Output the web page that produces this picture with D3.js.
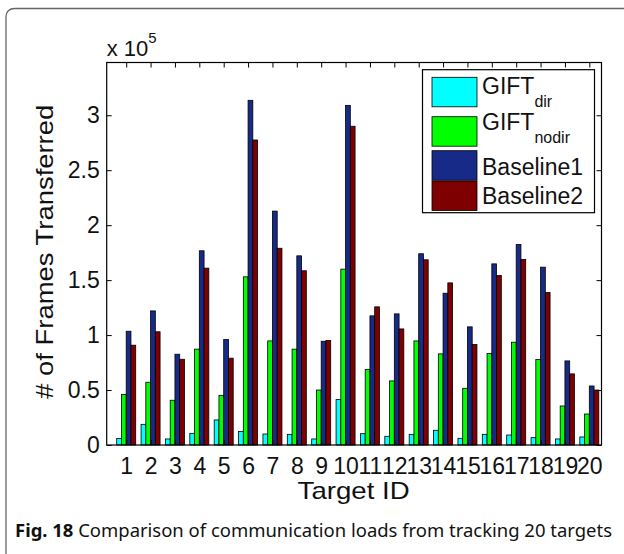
<!DOCTYPE html>
<html>
<head>
<meta charset="utf-8">
<script src="https://cdn.jsdelivr.net/npm/d3@7"></script>
<style>
  body { margin: 0; background: #fff; }
  svg text { font-family: "Liberation Sans", Arial, sans-serif; fill: #111; }
</style>
</head>
<body>
<div id="chart"></div>
<script>
// data (values in units of 10^5 frames)
var targets = d3.range(1, 21);
var giftDir = [0.06, 0.188, 0.055, 0.106, 0.228, 0.124, 0.10, 0.097, 0.055, 0.413,
               0.103, 0.079, 0.097, 0.134, 0.061, 0.097, 0.091, 0.067, 0.055, 0.073];
var giftNodir = [0.46, 0.571, 0.407, 0.872, 0.452, 1.53, 0.947, 0.872, 0.50, 1.60,
                 0.686, 0.583, 0.947, 0.829, 0.516, 0.832, 0.935, 0.777, 0.355, 0.282];
var baseline1 = [1.035, 1.22, 0.826, 1.767, 0.959, 3.136, 2.128, 1.721, 0.944, 3.09,
                 1.175, 1.193, 1.74, 1.381, 1.075, 1.648, 1.824, 1.618, 0.765, 0.537];
var baseline2 = [0.908, 1.03, 0.78, 1.609, 0.79, 2.775, 1.79, 1.585, 0.95, 2.90,
                 1.257, 1.056, 1.685, 1.475, 0.914, 1.542, 1.688, 1.388, 0.647, 0.50];
var yTicks = [0, 0.5, 1, 1.5, 2, 2.5, 3];
var seriesNames = [["GIFT", "dir"], ["GIFT", "nodir"], ["Baseline1", ""], ["Baseline2", ""]];
var colors = ["#00ffff", "#00ff00", "#172a88", "#7f0000"];
var allSeries = [giftDir, giftNodir, baseline1, baseline2];

var W = 624, H = 554;
var plotL = 106.7, plotR = 601.5, plotT = 62.5, plotB = 445;

var svg = d3.select("#chart").append("svg")
    .attr("width", W)
    .attr("height", H);

// card frame (only top/left edges show)
svg.append("path")
    .attr("d", "M6,570 V17 Q6,8.5 15,8.5 H640")
    .attr("fill", "none")
    .attr("stroke", "#666")
    .attr("stroke-width", 1.3);

var x = d3.scaleLinear().domain([0.2, 20.5]).range([plotL, plotR]);
var y = d3.scaleLinear().domain([0, 3.48]).range([plotB, plotT]);
var bw = 0.195; // bar width in x units

// bars
var rows = [];
allSeries.forEach(function (s, si) {
    s.forEach(function (v, i) {
        rows.push({ t: targets[i], v: v, s: si });
    });
});
svg.append("g")
    .selectAll("rect")
    .data(rows)
    .enter()
    .append("rect")
    .attr("x", function (d) { return x(d.t + (d.s - 2) * bw); })
    .attr("width", function (d) { return x(d.t + (d.s - 1) * bw) - x(d.t + (d.s - 2) * bw); })
    .attr("y", function (d) { return y(d.v); })
    .attr("height", function (d) { return y(0) - y(d.v); })
    .attr("fill", function (d) { return colors[d.s]; })
    .attr("stroke", "#000")
    .attr("stroke-width", 0.8);

// axes, ticks inward like matlab
var tk = 5;
var axB = svg.append("g").attr("transform", "translate(0," + plotB + ")")
    .call(d3.axisBottom(x).tickValues(targets).tickSize(-tk).tickPadding(13).tickFormat(d3.format("d")));
var axT = svg.append("g").attr("transform", "translate(0," + plotT + ")")
    .call(d3.axisTop(x).tickValues(targets).tickSize(-tk).tickFormat(""));
var axL = svg.append("g").attr("transform", "translate(" + plotL + ",0)")
    .call(d3.axisLeft(y).tickValues(yTicks).tickSize(-tk).tickPadding(7).tickFormat(function (d) { return d; }));
var axR = svg.append("g").attr("transform", "translate(" + plotR + ",0)")
    .call(d3.axisRight(y).tickValues(yTicks).tickSize(-tk).tickFormat(""));
[axB, axT, axL, axR].forEach(function (a) {
    a.select(".domain").remove();
    a.selectAll("line").attr("stroke", "#000").attr("stroke-width", 1);
    a.selectAll("text").style("font-size", "23px").attr("fill", "#111");
});
svg.append("rect")
    .attr("x", plotL).attr("y", plotT)
    .attr("width", plotR - plotL).attr("height", plotB - plotT)
    .attr("fill", "none").attr("stroke", "#000").attr("stroke-width", 1.2);

// exponent
var ex = svg.append("text").attr("x", plotL).attr("y", 56).style("font-size", "22px");
ex.append("tspan").text("x 10");
ex.append("tspan").attr("dy", -13).style("font-size", "15px").text("5");

// axis labels
svg.append("text")
    .attr("x", (plotL + plotR) / 2 - 0.5)
    .attr("y", 499)
    .attr("text-anchor", "middle")
    .attr("textLength", 112)
    .attr("lengthAdjust", "spacingAndGlyphs")
    .style("font-size", "24px")
    .text("Target ID");
svg.append("text")
    .attr("transform", "translate(53," + ((plotT + plotB) / 2 - 2) + ") rotate(-90)")
    .attr("text-anchor", "middle")
    .attr("textLength", 294)
    .attr("lengthAdjust", "spacingAndGlyphs")
    .style("font-size", "24px")
    .text("# of Frames Transferred");

// legend
var lg = svg.append("g");
lg.append("rect")
    .attr("x", 422.5).attr("y", 69.7)
    .attr("width", 172).attr("height", 143)
    .attr("fill", "#fff").attr("stroke", "#000").attr("stroke-width", 1.2);
var swY = [77.3, 116.7, 150.7, 181];
var txY = [94, 130, 175, 204];
seriesNames.forEach(function (n, i) {
    lg.append("rect")
        .attr("x", 432).attr("y", swY[i])
        .attr("width", 45).attr("height", 29.5)
        .attr("fill", colors[i]).attr("stroke", "#000").attr("stroke-width", 0.8);
    var t = lg.append("text").attr("x", 482).attr("y", txY[i]).style("font-size", "23px");
    t.append("tspan").text(n[0]);
    if (n[1]) {
        t.append("tspan").attr("dy", 13).style("font-size", "16px").text(n[1]);
    }
});

// caption
var cap = svg.append("text")
    .attr("x", 15).attr("y", 537)
    .style("font-family", "'Noto Sans', 'Open Sans', sans-serif")
    .style("font-size", "18px")
    .attr("textLength", 597)
    .attr("lengthAdjust", "spacingAndGlyphs");
cap.append("tspan").style("font-weight", "bold").text("Fig. 18");
cap.append("tspan").text(" Comparison of communication loads from tracking 20 targets");
</script>
</body>
</html>
